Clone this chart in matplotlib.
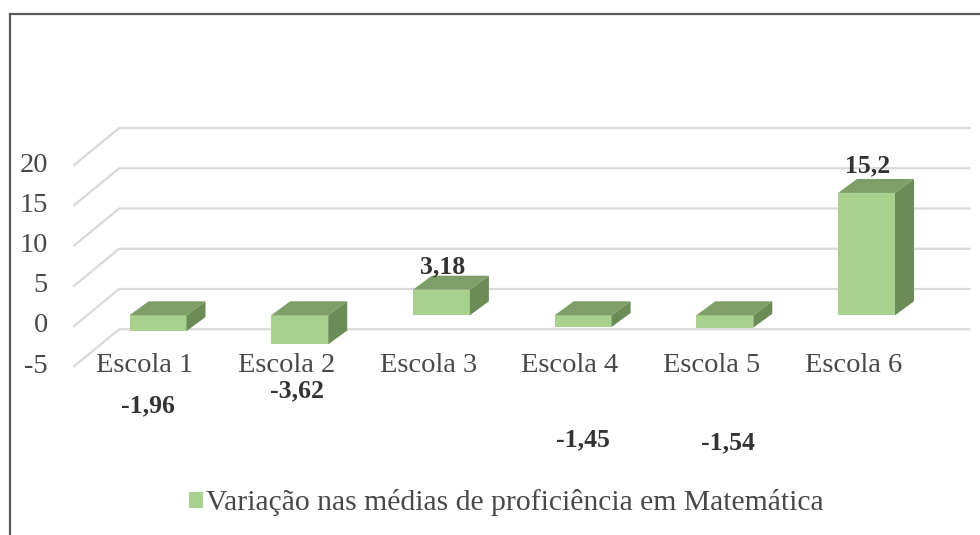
import matplotlib.pyplot as plt
from matplotlib.patches import Polygon, Patch
from matplotlib.lines import Line2D

# Data
categories = ["Escola 1", "Escola 2", "Escola 3", "Escola 4", "Escola 5", "Escola 6"]
values = [-1.96, -3.62, 3.18, -1.45, -1.54, 15.2]
value_labels = ["-1,96", "-3,62", "3,18", "-1,45", "-1,54", "15,2"]
y_ticks = [-5, 0, 5, 10, 15, 20]
series_name = "Variação nas médias de proficiência em Matemática"

plt.rcParams['font.family'] = ['Liberation Serif', 'DejaVu Serif']

# Layout (pixel based scale of the original picture)
W, H = 980, 535
px_per_cat = 141.7
px_per_unit = 8.05
x0_px, y0_px = 145, 326          # front plane: category 0, value 0

# oblique "3D" offsets in data units
wall = (45 / px_per_cat, 37 / px_per_unit)      # full depth (back wall)
bar_front = (13 / px_per_cat, 10.7 / px_per_unit)
bar_depth = (19 / px_per_cat, 14 / px_per_unit)
bar_w = 57 / px_per_cat

fig = plt.figure(figsize=(W / 100, H / 100), dpi=100)
ax = fig.add_axes([0, 0, 1, 1])
ax.set_xlim(-x0_px / px_per_cat, (W - x0_px) / px_per_cat)
ax.set_ylim((y0_px - H) / px_per_unit, y0_px / px_per_unit)
ax.axis('off')

grid_c = '#D9D9D9'
text_c = '#484848'
n = len(categories)
left, right = -0.5, n - 0.5

# gridlines on back wall with diagonal on left side wall
for v in y_ticks:
    ax.plot([left, left + wall[0], right + wall[0]],
            [v, v + wall[1], v + wall[1]], color=grid_c, lw=1.6, zorder=1)
    ax.text(-0.685, v, str(v), ha='right', va='center', fontsize=20.5, color=text_c)

# bars
front_c, top_c, side_c = '#A9D18E', '#7F9F69', '#6B8B57'
for i, v in enumerate(values):
    xl = i + bar_front[0] - bar_w / 2
    xr = xl + bar_w
    lo = min(0, v) + bar_front[1]
    hi = max(0, v) + bar_front[1]
    dx, dy = bar_depth
    ax.add_patch(Polygon([(xl, lo), (xr, lo), (xr, hi), (xl, hi)], closed=True,
                         facecolor=front_c, edgecolor='none', zorder=3))
    ax.add_patch(Polygon([(xl, hi), (xr, hi), (xr + dx, hi + dy), (xl + dx, hi + dy)],
                         closed=True, facecolor=top_c, edgecolor='none', zorder=3))
    ax.add_patch(Polygon([(xr, lo), (xr + dx, lo + dy), (xr + dx, hi + dy), (xr, hi)],
                         closed=True, facecolor=side_c, edgecolor='none', zorder=3))

# category labels
for i, c in enumerate(categories):
    ax.text(i, -5.71, c, ha='center', va='baseline', fontsize=20.5, color=text_c, zorder=4)

# data labels (offsets in pixels from the top of the front face, as Excel placed them)
label_offsets = [(-10, -81), (-3, -53), (1, 16), (0, -119), (3, -122), (1.5, 21)]
for i, (v, lab) in enumerate(zip(values, value_labels)):
    ox, oy = label_offsets[i]
    ax.annotate(lab, (i + bar_front[0], v + bar_front[1]),
                xytext=(ox * 0.72, oy * 0.72), textcoords='offset points',
                ha='center', va='baseline', fontsize=18.5, fontweight='bold',
                color='#333333', zorder=5)

# legend
fig.legend(handles=[Patch(facecolor=front_c, edgecolor='none', label=series_name)],
           loc='center', bbox_to_anchor=(0.517, 1 - 503 / H), frameon=False,
           fontsize=21.3, handlelength=0.45, handleheight=0.45, handletextpad=0.12,
           labelcolor=text_c)

# outer border (top and left only)
fig.add_artist(Line2D([10 / W, 1], [1 - 14 / H, 1 - 14 / H], color='#595959', lw=1.6))
fig.add_artist(Line2D([10 / W, 10 / W], [0, 1 - 14 / H], color='#595959', lw=1.6))

fig.savefig('out.png', dpi=100)
